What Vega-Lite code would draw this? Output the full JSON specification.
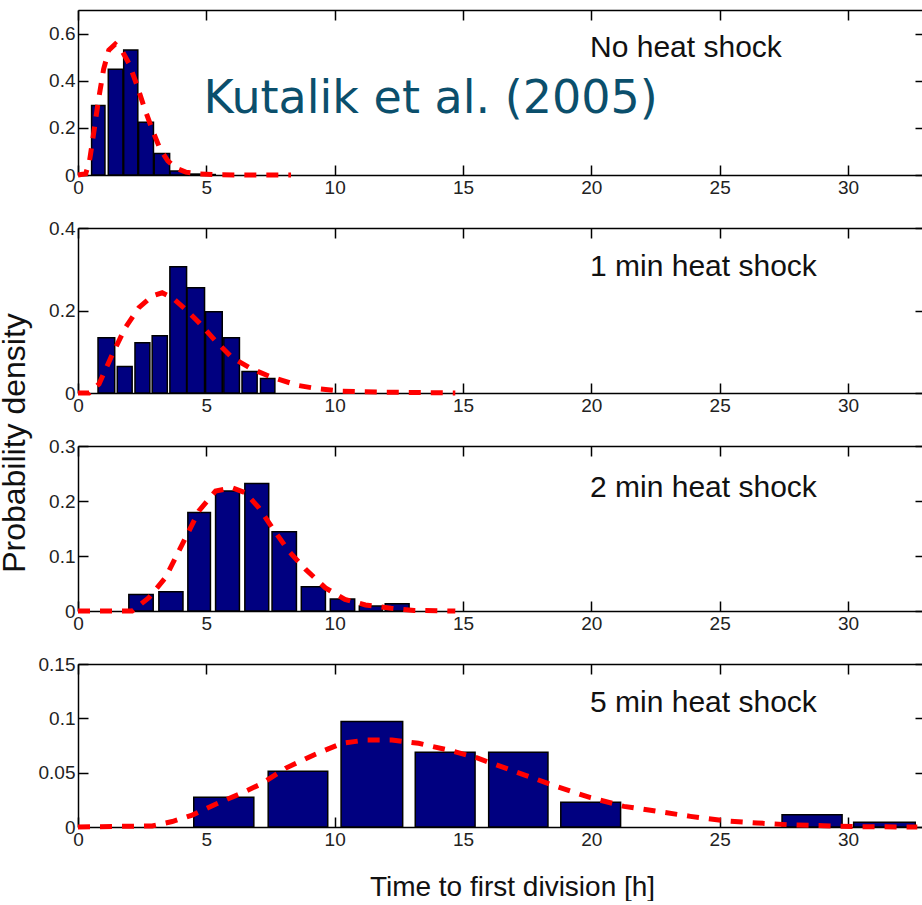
{
  "$schema": "https://vega.github.io/schema/vega-lite/v6.json",
  "padding": {"left": -3, "top": 9, "right": 0, "bottom": 0},
  "bounds": "flush",
  "spacing": 53,
  "config": {
    "view": {"stroke": null},
    "axis": {
      "labelFont": "Liberation Sans", "labelFontSize": 19, "labelColor": "#222",
      "titleFont": "Liberation Sans", "titleFontWeight": "normal", "titleColor": "#111",
      "domainColor": "black", "domainWidth": 1.5, "tickColor": "black", "tickWidth": 1.5,
      "tickSize": -10, "grid": false, "labelPadding": 13, "labelFlush": false, "labelOverlap": false
    }
  },
  "datasets": {
    "bars": [
      {"panel": "p1", "t0": 0.53, "t1": 1.05, "density": 0.295},
      {"panel": "p1", "t0": 1.18, "t1": 1.75, "density": 0.449},
      {"panel": "p1", "t0": 1.78, "t1": 2.33, "density": 0.530},
      {"panel": "p1", "t0": 2.36, "t1": 2.94, "density": 0.224},
      {"panel": "p1", "t0": 2.97, "t1": 3.57, "density": 0.091},
      {"panel": "p1", "t0": 3.59, "t1": 4.15, "density": 0.017},
      {"panel": "p1", "t0": 4.2, "t1": 4.75, "density": 0.004},
      {"panel": "p1", "t0": 4.8, "t1": 5.35, "density": 0.002},
      {"panel": "p2", "t0": 0.78, "t1": 1.43, "density": 0.134},
      {"panel": "p2", "t0": 1.53, "t1": 2.11, "density": 0.064},
      {"panel": "p2", "t0": 2.22, "t1": 2.80, "density": 0.122},
      {"panel": "p2", "t0": 2.89, "t1": 3.48, "density": 0.139},
      {"panel": "p2", "t0": 3.58, "t1": 4.23, "density": 0.306},
      {"panel": "p2", "t0": 4.25, "t1": 4.93, "density": 0.255},
      {"panel": "p2", "t0": 4.97, "t1": 5.62, "density": 0.197},
      {"panel": "p2", "t0": 5.68, "t1": 6.29, "density": 0.134},
      {"panel": "p2", "t0": 6.39, "t1": 6.98, "density": 0.052},
      {"panel": "p2", "t0": 7.11, "t1": 7.67, "density": 0.035},
      {"panel": "p3", "t0": 1.98, "t1": 2.93, "density": 0.030},
      {"panel": "p3", "t0": 3.15, "t1": 4.09, "density": 0.035},
      {"panel": "p3", "t0": 4.28, "t1": 5.16, "density": 0.179},
      {"panel": "p3", "t0": 5.36, "t1": 6.29, "density": 0.218},
      {"panel": "p3", "t0": 6.50, "t1": 7.43, "density": 0.232},
      {"panel": "p3", "t0": 7.56, "t1": 8.51, "density": 0.144},
      {"panel": "p3", "t0": 8.70, "t1": 9.64, "density": 0.044},
      {"panel": "p3", "t0": 9.83, "t1": 10.78, "density": 0.022},
      {"panel": "p3", "t0": 10.96, "t1": 11.86, "density": 0.009},
      {"panel": "p3", "t0": 11.97, "t1": 12.9, "density": 0.013},
      {"panel": "p4", "t0": 4.51, "t1": 6.85, "density": 0.0273},
      {"panel": "p4", "t0": 7.41, "t1": 9.73, "density": 0.0512},
      {"panel": "p4", "t0": 10.25, "t1": 12.65, "density": 0.0972},
      {"panel": "p4", "t0": 13.14, "t1": 15.47, "density": 0.0687},
      {"panel": "p4", "t0": 16.0, "t1": 18.31, "density": 0.0687},
      {"panel": "p4", "t0": 18.81, "t1": 21.14, "density": 0.0227},
      {"panel": "p4", "t0": 27.43, "t1": 29.77, "density": 0.0113},
      {"panel": "p4", "t0": 30.22, "t1": 32.62, "density": 0.0043}
    ],
    "curve": [
      {"panel": "p1", "t": 0, "density": 0},
      {"panel": "p1", "t": 0.3, "density": 0.005},
      {"panel": "p1", "t": 0.45, "density": 0.06},
      {"panel": "p1", "t": 0.6, "density": 0.17},
      {"panel": "p1", "t": 0.8, "density": 0.32},
      {"panel": "p1", "t": 1.0, "density": 0.45},
      {"panel": "p1", "t": 1.2, "density": 0.53},
      {"panel": "p1", "t": 1.45, "density": 0.555},
      {"panel": "p1", "t": 1.7, "density": 0.53},
      {"panel": "p1", "t": 2.0, "density": 0.47},
      {"panel": "p1", "t": 2.3, "density": 0.38},
      {"panel": "p1", "t": 2.6, "density": 0.28},
      {"panel": "p1", "t": 2.9, "density": 0.19},
      {"panel": "p1", "t": 3.2, "density": 0.11},
      {"panel": "p1", "t": 3.5, "density": 0.06},
      {"panel": "p1", "t": 3.8, "density": 0.03},
      {"panel": "p1", "t": 4.2, "density": 0.012},
      {"panel": "p1", "t": 4.7, "density": 0.005},
      {"panel": "p1", "t": 5.5, "density": 0.001},
      {"panel": "p1", "t": 6.5, "density": 0},
      {"panel": "p1", "t": 8.3, "density": 0},
      {"panel": "p2", "t": 0, "density": 0},
      {"panel": "p2", "t": 0.43, "density": 0},
      {"panel": "p2", "t": 0.82, "density": 0.022},
      {"panel": "p2", "t": 1.34, "density": 0.094},
      {"panel": "p2", "t": 1.85, "density": 0.159},
      {"panel": "p2", "t": 2.37, "density": 0.207},
      {"panel": "p2", "t": 2.89, "density": 0.235},
      {"panel": "p2", "t": 3.28, "density": 0.243},
      {"panel": "p2", "t": 3.67, "density": 0.231},
      {"panel": "p2", "t": 4.19, "density": 0.203},
      {"panel": "p2", "t": 4.71, "density": 0.171},
      {"panel": "p2", "t": 5.36, "density": 0.126},
      {"panel": "p2", "t": 6.0, "density": 0.086},
      {"panel": "p2", "t": 6.78, "density": 0.058},
      {"panel": "p2", "t": 7.56, "density": 0.038},
      {"panel": "p2", "t": 8.6, "density": 0.018},
      {"panel": "p2", "t": 9.38, "density": 0.010},
      {"panel": "p2", "t": 10.3, "density": 0.004},
      {"panel": "p2", "t": 11.8, "density": 0.002},
      {"panel": "p2", "t": 14.7, "density": 0},
      {"panel": "p3", "t": 0, "density": 0},
      {"panel": "p3", "t": 2.11, "density": 0},
      {"panel": "p3", "t": 2.76, "density": 0.024},
      {"panel": "p3", "t": 3.41, "density": 0.061},
      {"panel": "p3", "t": 4.06, "density": 0.121},
      {"panel": "p3", "t": 4.71, "density": 0.182},
      {"panel": "p3", "t": 5.36, "density": 0.218},
      {"panel": "p3", "t": 6.0, "density": 0.224},
      {"panel": "p3", "t": 6.52, "density": 0.215},
      {"panel": "p3", "t": 7.04, "density": 0.188},
      {"panel": "p3", "t": 7.56, "density": 0.152},
      {"panel": "p3", "t": 8.21, "density": 0.109},
      {"panel": "p3", "t": 8.86, "density": 0.076},
      {"panel": "p3", "t": 9.64, "density": 0.042},
      {"panel": "p3", "t": 10.4, "density": 0.021},
      {"panel": "p3", "t": 11.2, "density": 0.011},
      {"panel": "p3", "t": 12.2, "density": 0.005},
      {"panel": "p3", "t": 13.1, "density": 0.001},
      {"panel": "p3", "t": 14.7, "density": 0},
      {"panel": "p4", "t": 0, "density": 0},
      {"panel": "p4", "t": 2.89, "density": 0.001},
      {"panel": "p4", "t": 3.67, "density": 0.005},
      {"panel": "p4", "t": 4.45, "density": 0.011},
      {"panel": "p4", "t": 5.36, "density": 0.021},
      {"panel": "p4", "t": 6.26, "density": 0.030},
      {"panel": "p4", "t": 7.17, "density": 0.040},
      {"panel": "p4", "t": 8.08, "density": 0.054},
      {"panel": "p4", "t": 9.25, "density": 0.067},
      {"panel": "p4", "t": 10.28, "density": 0.077},
      {"panel": "p4", "t": 11.2, "density": 0.080},
      {"panel": "p4", "t": 12.23, "density": 0.080},
      {"panel": "p4", "t": 13.27, "density": 0.077},
      {"panel": "p4", "t": 14.4, "density": 0.071},
      {"panel": "p4", "t": 15.5, "density": 0.064},
      {"panel": "p4", "t": 16.08, "density": 0.059},
      {"panel": "p4", "t": 17.38, "density": 0.048},
      {"panel": "p4", "t": 18.68, "density": 0.037},
      {"panel": "p4", "t": 19.97, "density": 0.027},
      {"panel": "p4", "t": 21.27, "density": 0.019},
      {"panel": "p4", "t": 22.57, "density": 0.0144},
      {"panel": "p4", "t": 23.86, "density": 0.0098},
      {"panel": "p4", "t": 25.16, "density": 0.0058},
      {"panel": "p4", "t": 26.46, "density": 0.0037},
      {"panel": "p4", "t": 27.75, "density": 0.002},
      {"panel": "p4", "t": 29.05, "density": 0.0012},
      {"panel": "p4", "t": 30.35, "density": 0.0003},
      {"panel": "p4", "t": 32.7, "density": 0}
    ]
  },
  "vconcat": [
    {
      "width": 847, "height": 165,
      "resolve": {"axis": {"x": "independent", "y": "independent"}},
      "layer": [
        {
          "data": {"name": "bars"}, "transform": [{"filter": "datum.panel == 'p1'"}],
          "mark": {"type": "bar", "fill": "#000080", "stroke": "black", "strokeWidth": 1.5},
          "encoding": {
            "x": {"field": "t0", "type": "quantitative", "scale": {"domain": [0, 33], "nice": false, "zero": false}, "axis": {"orient": "bottom", "values": [0, 5, 10, 15, 20, 25, 30], "title": null}},
            "x2": {"field": "t1"},
            "y": {"field": "density", "type": "quantitative", "scale": {"domain": [0, 0.7], "nice": false}, "axis": {"orient": "left", "values": [0, 0.2, 0.4, 0.6], "format": ".2~f", "title": null}},
            "y2": {"datum": 0}
          }
        },
        {
          "data": {"name": "curve"}, "transform": [{"filter": "datum.panel == 'p1'"}],
          "mark": {"type": "line", "color": "#ff0000", "strokeWidth": 5, "strokeDash": [12, 10]},
          "encoding": {
            "x": {"field": "t", "type": "quantitative", "axis": {"orient": "top", "values": [0, 5, 10, 15, 20, 25, 30], "labels": false, "title": null}},
            "y": {"field": "density", "type": "quantitative", "axis": {"orient": "right", "values": [0, 0.2, 0.4, 0.6], "labels": false, "domain": false, "title": null}}
          }
        },
        {
          "data": {"values": [{"label": "No heat shock"}]},
          "mark": {"type": "text", "align": "left", "baseline": "middle", "font": "Liberation Sans", "fontSize": 30, "color": "#111"},
          "encoding": {"x": {"datum": 19.95, "axis": null}, "y": {"datum": 0.537, "axis": null}, "text": {"field": "label"}}
        },
        {
          "data": {"values": [{"label": "Kutalik et al. (2005)"}]},
          "mark": {"type": "text", "align": "center", "baseline": "alphabetic", "font": "DejaVu Sans", "fontSize": 46, "color": "#0b4f6c"},
          "encoding": {"x": {"datum": 13.74, "axis": null}, "y": {"datum": 0.265, "axis": null}, "text": {"field": "label"}}
        }
      ]
    },
    {
      "width": 847, "height": 165,
      "resolve": {"axis": {"x": "independent", "y": "independent"}},
      "layer": [
        {
          "data": {"name": "bars"}, "transform": [{"filter": "datum.panel == 'p2'"}],
          "mark": {"type": "bar", "fill": "#000080", "stroke": "black", "strokeWidth": 1.5},
          "encoding": {
            "x": {"field": "t0", "type": "quantitative", "scale": {"domain": [0, 33], "nice": false, "zero": false}, "axis": {"orient": "bottom", "values": [0, 5, 10, 15, 20, 25, 30], "title": null}},
            "x2": {"field": "t1"},
            "y": {"field": "density", "type": "quantitative", "scale": {"domain": [0, 0.4], "nice": false}, "axis": {"orient": "left", "values": [0, 0.2, 0.4], "format": ".2~f", "title": null}},
            "y2": {"datum": 0}
          }
        },
        {
          "data": {"name": "curve"}, "transform": [{"filter": "datum.panel == 'p2'"}],
          "mark": {"type": "line", "color": "#ff0000", "strokeWidth": 5, "strokeDash": [12, 10]},
          "encoding": {
            "x": {"field": "t", "type": "quantitative", "axis": {"orient": "top", "values": [0, 5, 10, 15, 20, 25, 30], "labels": false, "title": null}},
            "y": {"field": "density", "type": "quantitative", "axis": {"orient": "right", "values": [0, 0.2, 0.4], "labels": false, "domain": false, "title": null}}
          }
        },
        {
          "data": {"values": [{"label": "1 min heat shock"}]},
          "mark": {"type": "text", "align": "left", "baseline": "middle", "font": "Liberation Sans", "fontSize": 30, "color": "#111"},
          "encoding": {"x": {"datum": 19.95, "axis": null}, "y": {"datum": 0.3055, "axis": null}, "text": {"field": "label"}}
        }
      ]
    },
    {
      "width": 847, "height": 165,
      "resolve": {"axis": {"x": "independent", "y": "independent"}},
      "layer": [
        {
          "data": {"name": "bars"}, "transform": [{"filter": "datum.panel == 'p3'"}],
          "mark": {"type": "bar", "fill": "#000080", "stroke": "black", "strokeWidth": 1.5},
          "encoding": {
            "x": {"field": "t0", "type": "quantitative", "scale": {"domain": [0, 33], "nice": false, "zero": false}, "axis": {"orient": "bottom", "values": [0, 5, 10, 15, 20, 25, 30], "title": null}},
            "x2": {"field": "t1"},
            "y": {"field": "density", "type": "quantitative", "scale": {"domain": [0, 0.3], "nice": false}, "axis": {"orient": "left", "values": [0, 0.1, 0.2, 0.3], "format": ".2~f", "title": "Probability density", "titleFontSize": 32, "titleX": -54, "titleY": -3.5, "titleAngle": 270, "titleAlign": "center", "titleBaseline": "alphabetic"}},
            "y2": {"datum": 0}
          }
        },
        {
          "data": {"name": "curve"}, "transform": [{"filter": "datum.panel == 'p3'"}],
          "mark": {"type": "line", "color": "#ff0000", "strokeWidth": 5, "strokeDash": [12, 10]},
          "encoding": {
            "x": {"field": "t", "type": "quantitative", "axis": {"orient": "top", "values": [0, 5, 10, 15, 20, 25, 30], "labels": false, "title": null}},
            "y": {"field": "density", "type": "quantitative", "axis": {"orient": "right", "values": [0, 0.1, 0.2, 0.3], "labels": false, "domain": false, "title": null}}
          }
        },
        {
          "data": {"values": [{"label": "2 min heat shock"}]},
          "mark": {"type": "text", "align": "left", "baseline": "middle", "font": "Liberation Sans", "fontSize": 30, "color": "#111"},
          "encoding": {"x": {"datum": 19.95, "axis": null}, "y": {"datum": 0.2236, "axis": null}, "text": {"field": "label"}}
        }
      ]
    },
    {
      "width": 847, "height": 163,
      "resolve": {"axis": {"x": "independent", "y": "independent"}},
      "layer": [
        {
          "data": {"name": "bars"}, "transform": [{"filter": "datum.panel == 'p4'"}],
          "mark": {"type": "bar", "fill": "#000080", "stroke": "black", "strokeWidth": 1.5},
          "encoding": {
            "x": {"field": "t0", "type": "quantitative", "scale": {"domain": [0, 33], "nice": false, "zero": false}, "axis": {"orient": "bottom", "values": [0, 5, 10, 15, 20, 25, 30], "title": "Time to first division [h]", "titleFontSize": 28, "titleX": 434, "titleY": 68, "titleAlign": "center", "titleBaseline": "alphabetic"}},
            "x2": {"field": "t1"},
            "y": {"field": "density", "type": "quantitative", "scale": {"domain": [0, 0.15], "nice": false}, "axis": {"orient": "left", "values": [0, 0.05, 0.1, 0.15], "format": ".2~f", "title": null}},
            "y2": {"datum": 0}
          }
        },
        {
          "data": {"name": "curve"}, "transform": [{"filter": "datum.panel == 'p4'"}],
          "mark": {"type": "line", "color": "#ff0000", "strokeWidth": 5, "strokeDash": [12, 10]},
          "encoding": {
            "x": {"field": "t", "type": "quantitative", "axis": {"orient": "top", "values": [0, 5, 10, 15, 20, 25, 30], "labels": false, "title": null}},
            "y": {"field": "density", "type": "quantitative", "axis": {"orient": "right", "values": [0, 0.05, 0.1, 0.15], "labels": false, "domain": false, "title": null}}
          }
        },
        {
          "data": {"values": [{"label": "5 min heat shock"}]},
          "mark": {"type": "text", "align": "left", "baseline": "middle", "font": "Liberation Sans", "fontSize": 30, "color": "#111"},
          "encoding": {"x": {"datum": 19.95, "axis": null}, "y": {"datum": 0.114, "axis": null}, "text": {"field": "label"}}
        }
      ]
    }
  ]
}
